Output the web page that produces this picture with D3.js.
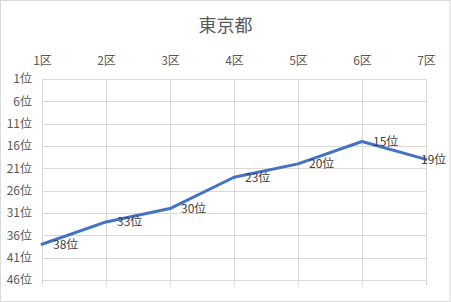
<!DOCTYPE html>
<html>
<head>
<meta charset="utf-8">
<script src="https://cdn.jsdelivr.net/npm/d3@7"></script>
<style>
  body { margin: 0; background: #fff; }
  text { font-family: "Noto Sans CJK JP", "Noto Sans", sans-serif; }
</style>
</head>
<body>
<div id="chart"></div>
<script>
const categories = ["1区", "2区", "3区", "4区", "5区", "6区", "7区"];
const ranks = [38, 33, 30, 23, 20, 15, 19];
const yTicks = [1, 6, 11, 16, 21, 26, 31, 36, 41, 46];
const title = "東京都";

const W = 451, H = 302;
const margin = { top: 79, right: 25, bottom: 22, left: 42 };
const width = W - margin.left - margin.right,
  height = 280 - margin.top;

const svg = d3.select("#chart").append("svg")
  .attr("width", W).attr("height", H);

// chart border
svg.append("rect")
  .attr("x", 0.5).attr("y", 0.5)
  .attr("width", W - 1.5).attr("height", H - 1)
  .attr("fill", "#fff").attr("stroke", "#d9d9d9");

svg.append("text")
  .attr("x", W / 2).attr("y", 32)
  .attr("text-anchor", "middle")
  .attr("fill", "#595959")
  .style("font-size", "18px")
  .text(title);

const g = svg.append("g")
  .attr("transform", `translate(${margin.left},${margin.top})`);

const x = d3.scalePoint().domain(categories).range([0, width]);
const y = d3.scaleLinear().domain([1, 46]).range([0, height]);

// horizontal gridlines
g.selectAll(".hgrid").data(yTicks).join("line")
  .attr("x1", 0).attr("x2", width)
  .attr("y1", d => Math.round(y(d)) + 0.5).attr("y2", d => Math.round(y(d)) + 0.5)
  .attr("stroke", "#d9d9d9");

// vertical gridlines
g.selectAll(".vgrid").data(categories).join("line")
  .attr("x1", d => Math.round(x(d)) + 0.5).attr("x2", d => Math.round(x(d)) + 0.5)
  .attr("y1", 0).attr("y2", height + 5)
  .attr("stroke", "#d9d9d9");

// top axis (category)
const xAxis = g.append("g").call(d3.axisTop(x).tickSize(0).tickPadding(14));
xAxis.select(".domain").remove();
xAxis.selectAll("text").attr("fill", "#595959").style("font-size", "12px")
  .style("font-family", "'Noto Sans CJK JP', sans-serif");

// left axis (rank)
const yAxis = g.append("g").call(d3.axisLeft(y).tickValues(yTicks)
  .tickSize(0).tickPadding(10).tickFormat(d => d + "位"));
yAxis.select(".domain").remove();
yAxis.selectAll("text").attr("fill", "#595959").style("font-size", "12px")
  .style("font-family", "'Noto Sans CJK JP', sans-serif");

const pts = categories.map((c, i) => ({ c, v: ranks[i] }));

g.append("path").datum(pts)
  .attr("fill", "none")
  .attr("stroke", "#4472c4")
  .attr("stroke-width", 3)
  .attr("stroke-linejoin", "round")
  .attr("stroke-linecap", "round")
  .attr("d", d3.line().x(d => x(d.c)).y(d => y(d.v)));

// data labels
g.selectAll(".lbl").data(pts).join("text")
  .attr("x", d => Math.min(x(d.c) + 11, W - margin.left - 30))
  .attr("y", d => y(d.v) + 1)
  .attr("dominant-baseline", "middle")
  .attr("fill", "#404040")
  .style("font-size", "12px")
  .text(d => d.v + "位");
</script>
</body>
</html>
